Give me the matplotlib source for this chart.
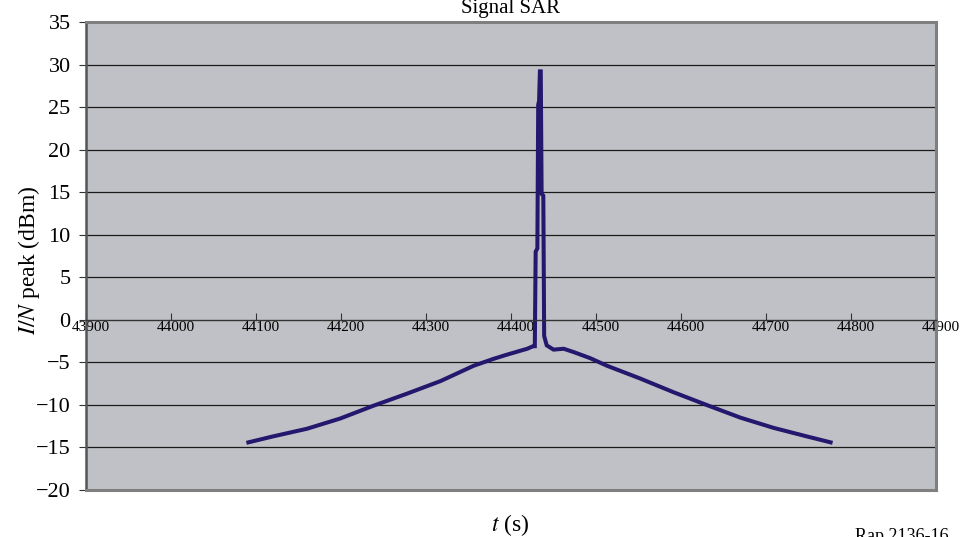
import matplotlib
matplotlib.use("Agg")
import matplotlib.pyplot as plt
import matplotlib.transforms as mtransforms

# --- Data (time in s, I/N peak in dBm) ---
t_left = [44091, 44120, 44160, 44199, 44238, 44277, 44317, 44356, 44379,
          44395, 44419, 44426]
v_left = [-14.4, -13.7, -12.8, -11.6, -10.1, -8.7, -7.2, -5.4, -4.6,
          -4.1, -3.4, -3.1]

t_spike = [44428, 44429, 44431, 44432, 44433, 44434, 44435, 44436, 44438,
           44439, 44442]
v_spike = [-3.1, 8.0, 8.4, 25.3, 25.7, 29.2, 29.2, 14.8, 14.6, -1.9, -3.0]

t_right = [44450, 44462, 44474, 44493, 44513, 44552, 44591, 44630, 44670,
           44709, 44748, 44776]
v_right = [-3.5, -3.4, -3.8, -4.5, -5.4, -6.9, -8.5, -10.0, -11.5,
           -12.7, -13.7, -14.4]

x_ticks = list(range(43900, 44901, 100))
y_ticks = list(range(-20, 36, 5))

plt.rcParams['font.family'] = ['Liberation Serif', 'DejaVu Serif']
plt.rcParams['mathtext.fontset'] = 'stix'

fig = plt.figure(figsize=(9.61, 5.37), dpi=100)
ax = fig.add_axes([0.0895, 0.0875, 0.8845, 0.8715])
ax.set_facecolor('#c0c1c6')

t_all = t_left + t_spike + t_right
v_all = v_left + v_spike + v_right
ax.plot(t_all, v_all, color='#23176e', linewidth=2.9, solid_joinstyle='miter')

ax.set_xlim(43900, 44900)
ax.set_ylim(-20, 35)
ax.set_xticks(x_ticks)
ax.set_yticks(y_ticks)
ax.set_xticklabels([str(x) for x in x_ticks])

# horizontal grid lines
for y in y_ticks:
    if y not in (-20, 0, 35):
        ax.axhline(y, color='#1a1a1a', linewidth=0.9, zorder=1)

# x axis crosses at zero
ax.spines['bottom'].set_position(('data', 0))
ax.spines['bottom'].set_color('#333333')
ax.spines['bottom'].set_linewidth(1.0)
ax.axhline(-20, color='#7f7f7f', linewidth=2.2, zorder=3, clip_on=False)
for side in ['top', 'right']:
    ax.spines[side].set_color('#7f7f7f')
    ax.spines[side].set_linewidth(2.2)
ax.spines['left'].set_color('#555555')
ax.spines['left'].set_linewidth(1.8)

ax.tick_params(axis='x', direction='in', length=5, width=0.8,
               color='#333333', labelsize=11, pad=1)
ax.tick_params(axis='y', direction='out', length=5, width=0.8,
               color='#333333', labelsize=16, pad=6)
ax.tick_params(axis='x', which='both', top=False)
ax.tick_params(axis='y', which='both', right=False)

# x labels sit slightly right of their ticks, as in the original
shift = mtransforms.ScaledTranslation(5 / 100, 0, fig.dpi_scale_trans)
for lab in ax.get_xticklabels():
    lab.set_transform(lab.get_transform() + shift)

fig.text(0.531, 0.985, 'Signal SAR', ha='center', va='center', fontsize=15)
fig.text(0.531, 0.022, '$t$ (s)', ha='center', va='center', fontsize=17)
fig.text(0.03, 0.515, '$I/N$ peak (dBm)', ha='center', va='center',
         rotation=90, fontsize=17)
fig.text(0.89, -0.014, 'Rap 2136-16', ha='left', va='bottom', fontsize=13)

fig.savefig('out.png', dpi=100)
